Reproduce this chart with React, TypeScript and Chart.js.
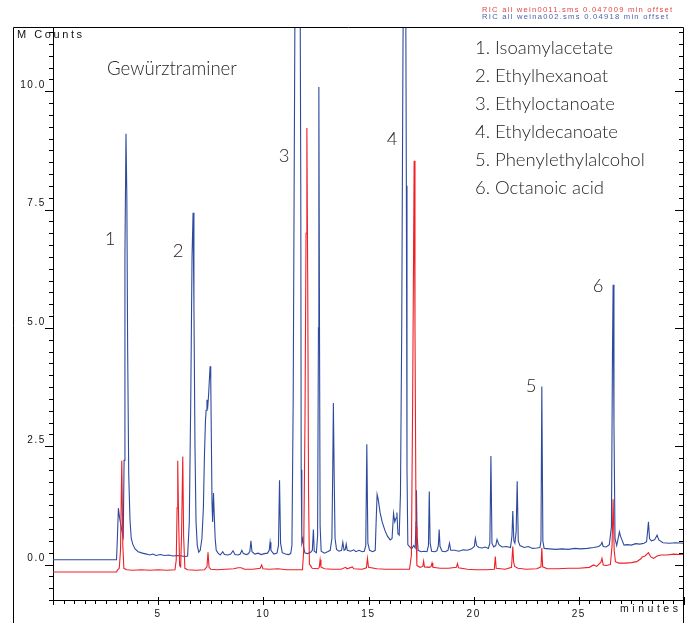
import React, { useEffect, useRef } from 'react';
import { Chart, registerables } from 'chart.js';

Chart.register(...registerables);

// ---- data (minutes, M counts) ----
const blueTime = [
  0.0, 3.02, 3.06, 3.11, 3.16, 3.22, 3.28, 3.34, 3.38, 3.42, 3.47, 3.51, 3.55, 3.6, 3.66, 3.72, 3.8, 3.9, 4.05, 4.25,
  4.45, 4.6, 4.75, 4.9, 5.1, 5.3, 5.5, 5.7, 5.9, 6.1, 6.3, 6.4, 6.48, 6.55, 6.61, 6.66, 6.7, 6.75, 6.8, 6.86,
  6.93, 7.0, 7.08, 7.15, 7.2, 7.25, 7.28, 7.32, 7.36, 7.4, 7.44, 7.47, 7.5, 7.53, 7.56, 7.59, 7.63, 7.67, 7.71, 7.76,
  7.85, 7.95, 8.07, 8.15, 8.3, 8.45, 8.56, 8.65, 8.8, 8.9, 8.98, 9.05, 9.2, 9.3, 9.36, 9.41, 9.46, 9.6, 9.75, 9.9,
  10.05, 10.2, 10.28, 10.32, 10.36, 10.5, 10.65, 10.72, 10.77, 10.82, 10.9, 11.05, 11.2, 11.3, 11.36, 11.42, 11.5, 11.58, 11.67, 11.74,
  11.78, 11.8, 11.83, 11.88, 11.92, 11.98, 12.1, 12.25, 12.33, 12.38, 12.42, 12.52, 12.58, 12.62, 12.64, 12.67, 12.7, 12.75, 12.9, 13.05,
  13.18, 13.26, 13.3, 13.33, 13.37, 13.41, 13.48, 13.6, 13.72, 13.78, 13.84, 13.9, 13.94, 13.99, 14.15, 14.3, 14.4, 14.55, 14.7, 14.8,
  14.87, 14.92, 14.97, 15.05, 15.2, 15.32, 15.37, 15.41, 15.46, 15.55, 15.65, 15.78, 15.9, 16.03, 16.12, 16.19, 16.25, 16.31, 16.35, 16.4,
  16.46, 16.52, 16.58, 16.64, 16.7, 16.76, 16.8, 16.83, 16.87, 16.95, 17.05, 17.15, 17.22, 17.26, 17.28, 17.31, 17.36, 17.5, 17.65, 17.78,
  17.85, 17.89, 17.93, 18.0, 18.15, 18.25, 18.32, 18.36, 18.4, 18.5, 18.65, 18.78, 18.85, 18.91, 19.1, 19.3, 19.5, 19.7, 19.9, 20.03,
  20.08, 20.14, 20.25, 20.4, 20.55, 20.7, 20.77, 20.82, 20.87, 20.95, 21.05, 21.11, 21.2, 21.35, 21.55, 21.75, 21.82, 21.86, 21.91, 21.96,
  22.02, 22.07, 22.12, 22.2, 22.4, 22.6, 22.8, 23.0, 23.15, 23.2, 23.24, 23.29, 23.35, 23.6, 23.9, 24.2, 24.5, 24.8, 25.1, 25.4,
  25.7, 25.95, 26.05, 26.1, 26.16, 26.3, 26.45, 26.55, 26.6, 26.63, 26.67, 26.72, 26.8, 26.87, 26.93, 26.98, 27.05, 27.15, 27.3, 27.5,
  27.7, 27.9, 28.1, 28.22, 28.27, 28.31, 28.36, 28.45, 28.6, 28.72, 28.8, 29.0, 29.3, 29.6, 30.0,
];
const blueCounts = [
  0.1, 0.1, 0.55, 1.19, 1.0, 0.85, 0.7, 0.59, 2.2, 6.5, 9.1, 7.8, 4.5, 1.9, 0.95, 0.55, 0.42, 0.33, 0.27, 0.24,
  0.22, 0.2, 0.22, 0.19, 0.21, 0.19, 0.2, 0.18, 0.19, 0.18, 0.17, 0.18, 0.9, 3.5, 6.5, 7.43, 5.5, 2.5, 0.9, 0.4,
  0.26, 0.3, 0.55, 1.2, 2.3, 3.05, 3.26, 3.48, 3.35, 3.6, 3.95, 4.19, 3.9, 2.6, 1.3, 0.9, 1.51, 1.0, 0.55, 0.3,
  0.24, 0.2, 0.27, 0.21, 0.2, 0.22, 0.29, 0.21, 0.2, 0.22, 0.3, 0.23, 0.21, 0.23, 0.28, 0.5, 0.27, 0.22, 0.24, 0.21,
  0.23, 0.24, 0.3, 0.47, 0.3, 0.22, 0.24, 0.4, 1.78, 0.45, 0.25, 0.22, 0.21, 0.23, 0.4, 3.5, 11.5, 14.5, 15.0, 13.5,
  8.0, 2.0, 0.45, 0.55, 0.35, 0.24, 0.23, 0.26, 0.3, 0.74, 0.28, 0.25, 0.6, 5.0, 10.09, 5.0, 0.8, 0.28, 0.24, 0.27,
  0.3, 0.55, 2.0, 3.41, 1.8, 0.55, 0.32, 0.28, 0.3, 0.47, 0.3, 0.32, 0.43, 0.3, 0.28, 0.31, 0.27, 0.3, 0.27, 0.28,
  0.4, 2.54, 0.45, 0.3, 0.27, 0.3, 1.0, 1.48, 1.38, 1.1, 0.9, 0.72, 0.6, 0.52, 0.55, 1.08, 0.9, 0.98, 1.1, 0.65,
  0.62, 1.5, 5.0, 11.0, 14.0, 13.5, 8.0, 2.0, 0.42, 0.38, 0.33, 0.4, 0.35, 0.9, 1.57, 0.6, 0.3, 0.27, 0.28, 0.27,
  0.4, 1.54, 0.45, 0.28, 0.27, 0.29, 0.4, 0.74, 0.38, 0.28, 0.27, 0.3, 0.45, 0.3, 0.3, 0.28, 0.31, 0.3, 0.33, 0.38,
  0.55, 0.4, 0.36, 0.35, 0.37, 0.34, 0.45, 2.29, 0.45, 0.37, 0.4, 0.53, 0.42, 0.37, 0.38, 0.36, 0.6, 1.13, 0.5, 0.45,
  0.7, 1.76, 0.5, 0.4, 0.36, 0.38, 0.34, 0.35, 0.36, 0.5, 3.76, 0.5, 0.34, 0.33, 0.32, 0.33, 0.32, 0.34, 0.33, 0.34,
  0.36, 0.38, 0.42, 0.47, 0.38, 0.37, 0.42, 0.8, 4.5, 5.91, 3.0, 0.55, 0.4, 0.55, 0.69, 0.6, 0.52, 0.41, 0.42, 0.41,
  0.44, 0.43, 0.45, 0.48, 0.7, 0.9, 0.55, 0.5, 0.52, 0.62, 0.52, 0.46, 0.45, 0.46, 0.45,
];

const redTime = [
  0.0, 3.02, 3.06, 3.15, 3.21, 3.27, 3.32, 3.37, 3.5, 3.8, 4.2, 4.6, 5.0, 5.4, 5.8, 5.86, 5.9, 5.93, 5.97, 6.02,
  6.07, 6.11, 6.17, 6.21, 6.27, 6.4, 6.8, 7.2, 7.32, 7.37, 7.42, 7.5, 7.8, 8.2, 8.6, 8.8, 8.95, 9.1, 9.5, 9.85,
  9.92, 9.98, 10.3, 10.7, 11.1, 11.5, 11.86, 11.92, 11.98, 12.03, 12.07, 12.11, 12.15, 12.19, 12.24, 12.32, 12.6, 12.66, 12.7, 12.74,
  12.9, 13.3, 13.7, 13.91, 13.98, 14.23, 14.3, 14.7, 14.9, 14.95, 15.0, 15.4, 15.8, 16.2, 16.6, 16.95, 17.04, 17.1, 17.17, 17.21,
  17.26, 17.3, 17.45, 17.58, 17.62, 17.66, 17.9, 17.98, 18.02, 18.06, 18.4, 18.8, 19.18, 19.23, 19.28, 19.7, 20.1, 20.6, 20.98, 21.03,
  21.07, 21.5, 21.8, 21.86, 21.9, 21.95, 22.1, 22.5, 23.0, 23.2, 23.24, 23.28, 23.5, 24.0, 24.5, 25.0, 25.5, 25.7, 25.85, 26.05,
  26.1, 26.16, 26.3, 26.5, 26.58, 26.63, 26.68, 26.74, 26.9, 27.2, 27.5, 27.75, 27.95, 28.01, 28.15, 28.31, 28.42, 28.55, 28.72, 28.9,
  29.2, 29.5, 29.8, 30.0,
];
const redCounts = [
  -0.16, -0.16, -0.12, -0.08, 0.3, 2.19, 0.4, -0.08, -0.11, -0.12, -0.11, -0.12, -0.11, -0.12, -0.11, 0.1, 1.2, 2.19, 1.0, -0.02,
  -0.05, 0.6, 2.28, 0.6, -0.08, -0.11, -0.12, -0.11, -0.05, 0.26, -0.06, -0.1, -0.11, -0.1, -0.09, -0.07, -0.07, -0.1, -0.1, -0.08,
  -0.01, -0.09, -0.1, -0.09, -0.11, -0.11, -0.11, 0.3, 3.0, 7.0, 9.22, 6.0, 1.5, 0.0, -0.02, -0.08, -0.09, -0.06, 0.1, -0.05,
  -0.09, -0.1, -0.1, -0.06, -0.09, -0.05, -0.09, -0.1, -0.07, 0.13, -0.06, -0.09, -0.1, -0.1, -0.1, -0.1, 0.2, 3.5, 8.53, 5.0,
  0.8, -0.02, -0.06, -0.04, 0.07, -0.05, -0.06, -0.04, 0.03, -0.06, -0.08, -0.08, -0.06, 0.02, -0.07, -0.1, -0.11, -0.11, -0.1, 0.17,
  -0.08, -0.1, -0.06, 0.38, 0.05, -0.04, -0.08, -0.1, -0.09, -0.05, 0.35, -0.05, -0.09, -0.09, -0.08, -0.08, -0.06, -0.01, -0.04, 0.05,
  0.13, -0.01, -0.02, 0.0, 0.4, 1.38, 0.3, 0.06, 0.03, 0.03, 0.04, 0.06, 0.12, 0.16, 0.18, 0.25, 0.16, 0.13, 0.18, 0.2,
  0.2, 0.22, 0.21, 0.22,
];

const xTickValues = [5, 10, 15, 20, 25];
const xTickLabels = ['5', '10', '15', '20', '25'];
const yTickValues = [0, 2.5, 5, 7.5, 10];
const yTickLabels = ['0.0', '2.5', '5.0', '7.5', '10.0'];

const compoundNames = [
  '1. Isoamylacetate',
  '2. Ethylhexanoat',
  '3. Ethyloctanoate',
  '4. Ethyldecanoate',
  '5. Phenylethylalcohol',
  '6. Octanoic acid',
];
const peakNumbers = ['1', '2', '3', '4', '5', '6'];
const sampleName = 'Gewürztraminer';
const traceHeaders = [
  'RIC all wein0011.sms 0.047009 min offset',
  'RIC all weina002.sms 0.04918 min offset',
];
const yUnitLabel = 'M Counts';
const xUnitLabel = 'minutes';

const RED = 'rgb(238, 32, 38)';
const BLUE = 'rgb(46, 74, 158)';
const TICK_FONT = '"Liberation Sans", Arial, sans-serif';
const TEXT_FONT = 'Lato, "Open Sans", sans-serif';
const TEXT_WEIGHT = '300';

function fitSize(ctx: CanvasRenderingContext2D, text: string, family: string, target: number) {
  ctx.letterSpacing = '0px';
  ctx.font = `${TEXT_WEIGHT} 20px ${family}`;
  const w = ctx.measureText(text).width;
  return (20 * target) / w;
}

function drawSpaced(
  ctx: CanvasRenderingContext2D,
  text: string,
  x: number,
  y: number,
  size: number,
  targetWidth: number,
  color: string,
) {
  ctx.letterSpacing = '0px';
  ctx.font = `${size}px ${TICK_FONT}`;
  const w0 = ctx.measureText(text).width;
  const sp = Math.max(0, (targetWidth - w0) / (text.length - 1));
  ctx.letterSpacing = `${sp}px`;
  ctx.fillStyle = color;
  ctx.textAlign = 'left';
  ctx.textBaseline = 'middle';
  ctx.fillText(text, x, y);
  ctx.letterSpacing = '0px';
}

const decorPlugin = {
  id: 'decor',
  beforeDraw(chart: any) {
    (chart.ctx as any).letterSpacing = '1.6px';
  },
  beforeDatasetsDraw(chart: any) {
    (chart.ctx as any).letterSpacing = '0px';
  },
  afterDraw(chart: any) {
    const ctx = chart.ctx as CanvasRenderingContext2D;
    const xs = chart.scales.x;
    const ys = chart.scales.y;
    const { left, right, top, bottom } = chart.chartArea;
    ctx.save();
    ctx.strokeStyle = '#000';
    ctx.lineWidth = 1;

    // outer frame
    ctx.beginPath();
    ctx.moveTo(13.5, chart.height);
    ctx.lineTo(13.5, top - 0.5);
    ctx.lineTo(right - 0.5, top - 0.5);
    ctx.lineTo(right - 0.5, chart.height);
    ctx.stroke();

    // y ticks (left outward, right inward)
    ctx.beginPath();
    for (let k = -3; k <= 45; k++) {
      const v = k * 0.25;
      if (v > ys.max) break;
      const y = Math.round(ys.getPixelForValue(v)) + 0.5;
      const major = k % 10 === 0;
      const len = major ? 8 : 4;
      ctx.moveTo(left - len, y);
      ctx.lineTo(left, y);
      ctx.moveTo(right - 1 - len, y);
      ctx.lineTo(right - 1, y);
    }
    // x ticks
    for (let k = 0; k <= 60; k++) {
      const v = k * 0.5;
      const x = Math.round(xs.getPixelForValue(v)) + 0.5;
      const major = k % 10 === 0;
      ctx.moveTo(x, major ? bottom - 3 : bottom);
      ctx.lineTo(x, bottom + (major ? 5 : 4));
    }
    ctx.stroke();

    // unit labels
    drawSpaced(ctx, yUnitLabel, 17, 35, 11, 65, '#111');
    drawSpaced(ctx, xUnitLabel, 620, 609, 10.5, 58, '#111');

    // headers
    drawSpaced(ctx, traceHeaders[0], 482, 10, 7.6, 190, 'rgb(226, 70, 70)');
    drawSpaced(ctx, traceHeaders[1], 482, 16.6, 7.6, 186, 'rgb(80, 96, 170)');

    // sample name + legend + peak numbers
    const textColor = '#262626';
    const legSize = fitSize(ctx, compoundNames[4], TEXT_FONT, 170);
    ctx.fillStyle = textColor;
    ctx.textBaseline = 'alphabetic';
    ctx.textAlign = 'left';
    ctx.font = `${TEXT_WEIGHT} ${legSize}px ${TEXT_FONT}`;
    compoundNames.forEach((name, i) => {
      ctx.fillText(name, 475, 54 + 28 * i);
    });
    const nameSize = fitSize(ctx, sampleName, TEXT_FONT, 130);
    ctx.font = `${TEXT_WEIGHT} ${nameSize}px ${TEXT_FONT}`;
    ctx.fillText(sampleName, 107, 75);

    const peakPos = [
      [110, 245],
      [178, 257],
      [284, 162],
      [392, 144.5],
      [531, 392],
      [598, 292],
    ];
    ctx.font = `${TEXT_WEIGHT} ${legSize}px ${TEXT_FONT}`;
    ctx.textAlign = 'center';
    peakNumbers.forEach((p, i) => {
      ctx.fillText(p, peakPos[i][0], peakPos[i][1]);
    });
    ctx.restore();
  },
};

export default function App() {
  const ref = useRef<HTMLCanvasElement | null>(null);
  useEffect(() => {
    document.body.style.margin = '0';
    const canvas = ref.current;
    if (!canvas) return;
    const chart = new Chart(canvas, {
      type: 'line',
      data: {
        datasets: [
          {
            label: 'wein0011',
            data: redTime.map((t, i) => ({ x: t, y: redCounts[i] })),
            borderColor: RED,
            borderWidth: 1.1,
            pointRadius: 0,
            tension: 0,
            fill: false,
          },
          {
            label: 'weina002',
            data: blueTime.map((t, i) => ({ x: t, y: blueCounts[i] })),
            borderColor: BLUE,
            borderWidth: 1.1,
            pointRadius: 0,
            tension: 0,
            fill: false,
          },
        ],
      },
      options: {
        responsive: false,
        animation: false,
        events: [],
        layout: { padding: { left: 0, top: 28, right: 10, bottom: 0 } },
        plugins: { legend: { display: false }, tooltip: { enabled: false } },
        scales: {
          x: {
            type: 'linear',
            min: 0,
            max: 30,
            afterFit: (s: any) => {
              s.height = 23;
            },
            afterBuildTicks: (s: any) => {
              s.ticks = xTickValues.map((v) => ({ value: v }));
            },
            ticks: {
              autoSkip: false,
              maxRotation: 0,
              padding: 8,
              color: '#111',
              font: { family: TICK_FONT, size: 10 },
              callback: (v: any) => {
                const i = xTickValues.indexOf(Number(v));
                return i >= 0 ? xTickLabels[i] : '';
              },
            },
            grid: { display: false, drawTicks: false },
            border: { display: true, color: '#000', width: 1 },
          },
          y: {
            type: 'linear',
            min: -0.75,
            max: 11.335,
            afterFit: (s: any) => {
              s.width = 53;
            },
            afterBuildTicks: (s: any) => {
              s.ticks = yTickValues.map((v) => ({ value: v }));
            },
            ticks: {
              autoSkip: false,
              padding: 7,
              labelOffset: -6,
              color: '#111',
              font: { family: TICK_FONT, size: 10 },
              callback: (v: any) => {
                const i = yTickValues.indexOf(Number(v));
                return i >= 0 ? yTickLabels[i] : '';
              },
            },
            grid: { display: false, drawTicks: false },
            border: { display: true, color: '#000', width: 1 },
          },
        },
      },
      plugins: [decorPlugin],
    } as any);
    return () => chart.destroy();
  }, []);
  return <canvas ref={ref} width={694} height={623} style={{ display: 'block' }} />;
}
